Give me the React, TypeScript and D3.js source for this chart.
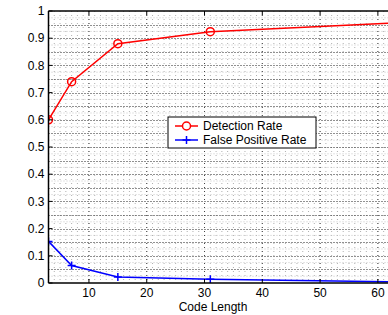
import { useMemo } from 'react'
import * as d3 from 'd3'

const codeLengths = [3, 7, 15, 31, 63]
const detectionRate = [0.6, 0.74, 0.88, 0.924, 0.956]
const falsePositiveRate = [0.153, 0.064, 0.022, 0.0135, 0.004]
const xTicks = [10, 20, 30, 40, 50, 60]
const yTicks = [0, 0.1, 0.2, 0.3, 0.4, 0.5, 0.6, 0.7, 0.8, 0.9, 1]
const seriesNames = ['Detection Rate', 'False Positive Rate']

const W = 388
const H = 315
const FONT = '"Liberation Sans", Arial, sans-serif'

export default function App() {
  const x = useMemo(() => d3.scaleLinear().domain([3, 64]).range([48.5, 401]), [])
  const y = useMemo(() => d3.scaleLinear().domain([0, 1]).range([283, 11]), [])

  const line = d3
    .line<[number, number]>()
    .x((d) => x(d[0]))
    .y((d) => y(d[1]))

  const det: [number, number][] = codeLengths.map((c, i) => [c, detectionRate[i]])
  const fpr: [number, number][] = codeLengths.map((c, i) => [c, falsePositiveRate[i]])

  // minor grid: every unit along x, every 0.05 along y
  const xMinor = d3.range(4, 64)
  const yMajor = d3.range(0.05, 1, 0.05)
  const yMinor = d3.range(0.025, 1, 0.05)

  const [x0, x1] = x.range()
  const [y0, y1] = y.range()

  return (
    <svg
      width={W}
      height={H}
      style={{ position: 'absolute', left: 0, top: 0, background: 'white' }}
      fontFamily={FONT}
    >
      <defs>
        <clipPath id="plot-clip">
          <rect x={x0} y={y1} width={x1 - x0} height={y0 - y1} />
        </clipPath>
      </defs>
      <g clipPath="url(#plot-clip)">
        {xMinor.map((v) => (
          <line
            key={'xm' + v}
            x1={x(v)}
            x2={x(v)}
            y1={y1}
            y2={y0}
            stroke="#b0b0b0"
            strokeWidth={1}
            strokeDasharray="1,3"
          />
        ))}
        {yMinor.map((v, i) => (
          <line
            key={'ym' + i}
            x1={x0}
            x2={x1}
            y1={y(v)}
            y2={y(v)}
            stroke="#c8c8c8"
            strokeWidth={1}
            strokeDasharray="1,2"
          />
        ))}
        {yMajor.map((v, i) => (
          <line
            key={'yM' + i}
            x1={x0}
            x2={x1}
            y1={Math.round(y(v)) + 0.5}
            y2={Math.round(y(v)) + 0.5}
            stroke="#222"
            strokeWidth={1}
            strokeDasharray="1,2"
          />
        ))}
        {xTicks.map((v) => (
          <line
            key={'xg' + v}
            x1={x(v)}
            x2={x(v)}
            y1={y1}
            y2={y0}
            stroke="#444"
            strokeWidth={1}
            strokeDasharray="1,3"
          />
        ))}

        <path d={line(det) ?? ''} fill="none" stroke="#ff0000" strokeWidth={1.5} />
        {det.map((d, i) => (
          <circle key={'dm' + i} cx={x(d[0])} cy={y(d[1])} r={4} fill="none" stroke="#ff0000" strokeWidth={1.5} />
        ))}
        <path d={line(fpr) ?? ''} fill="none" stroke="#0000ff" strokeWidth={1.5} />
        {fpr.map((d, i) => (
          <g key={'fm' + i} stroke="#0000ff" strokeWidth={1.5}>
            <line x1={x(d[0]) - 4} x2={x(d[0]) + 4} y1={y(d[1])} y2={y(d[1])} />
            <line x1={x(d[0])} x2={x(d[0])} y1={y(d[1]) - 4} y2={y(d[1]) + 4} />
          </g>
        ))}
      </g>

      {/* axes box */}
      <line x1={x0} x2={x0} y1={y1} y2={y0} stroke="#000" strokeWidth={1.5} />
      <line x1={x0} x2={x1} y1={y0} y2={y0} stroke="#000" strokeWidth={1.5} />
      <line x1={x0} x2={x1} y1={y1} y2={y1} stroke="#000" strokeWidth={1.5} />

      {yTicks.map((v) => (
        <g key={'yt' + v}>
          <line x1={x0} x2={x0 + 4} y1={y(v)} y2={y(v)} stroke="#000" />
          <text x={x0 - 4} y={y(v)} dy="0.35em" textAnchor="end" fontSize={12} fill="#000">
            {d3.format('~g')(v)}
          </text>
        </g>
      ))}
      {xTicks.map((v) => (
        <g key={'xt' + v}>
          <line x1={x(v)} x2={x(v)} y1={y0} y2={y0 - 4} stroke="#000" />
          <line x1={x(v)} x2={x(v)} y1={y1} y2={y1 + 4} stroke="#000" />
          <text x={x(v)} y={y0 + 14} textAnchor="middle" fontSize={12} fill="#000">
            {v}
          </text>
        </g>
      ))}
      <text x={213} y={y0 + 27.5} textAnchor="middle" fontSize={12} fill="#000">
        Code Length
      </text>

      {/* legend */}
      <g transform="translate(168,117)">
        <rect x={0} y={0} width={148} height={31} fill="white" stroke="#000" strokeWidth={1} />
        <line x1={7} x2={30} y1={9} y2={9} stroke="#ff0000" strokeWidth={1.5} />
        <circle cx={18.5} cy={9} r={4} fill="white" stroke="#ff0000" strokeWidth={1.5} />
        <text x={35} y={9} dy="0.35em" fontSize={12} fill="#000">
          {seriesNames[0]}
        </text>
        <line x1={7} x2={30} y1={23} y2={23} stroke="#0000ff" strokeWidth={1.5} />
        <line x1={14.5} x2={22.5} y1={23} y2={23} stroke="#0000ff" strokeWidth={1.5} />
        <line x1={18.5} x2={18.5} y1={19} y2={27} stroke="#0000ff" strokeWidth={1.5} />
        <text x={35} y={23} dy="0.35em" fontSize={12} fill="#000">
          {seriesNames[1]}
        </text>
      </g>
    </svg>
  )
}
